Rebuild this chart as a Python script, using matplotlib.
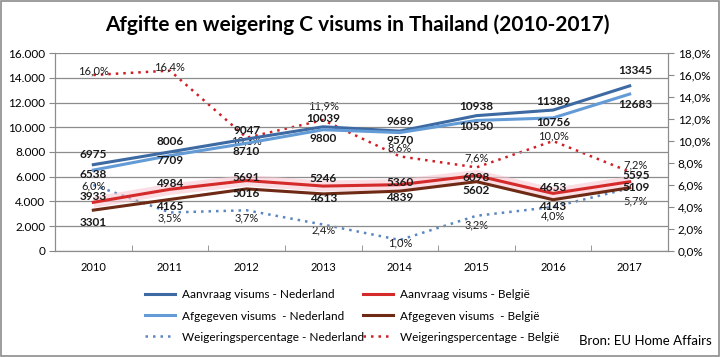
import matplotlib
matplotlib.use("Agg")
import matplotlib.pyplot as plt
from matplotlib.patches import Rectangle
from matplotlib.ticker import FuncFormatter

plt.rcParams['font.family'] = ['Lato', 'DejaVu Sans']

# data
years = ['2010', '2011', '2012', '2013', '2014', '2015', '2016', '2017']
aanvraag_nl = [6975, 8006, 9047, 10039, 9689, 10938, 11389, 13345]
afgegeven_nl = [6538, 7709, 8710, 9800, 9570, 10550, 10756, 12683]
aanvraag_be = [3933, 4984, 5691, 5246, 5360, 6098, 4653, 5595]
afgegeven_be = [3301, 4165, 5016, 4613, 4839, 5602, 4143, 5109]
weigering_nl = [6.0, 3.5, 3.7, 2.4, 1.0, 3.2, 4.0, 5.7]
weigering_be = [16.0, 16.4, 10.3, 11.9, 8.6, 7.6, 10.0, 7.2]

# label offsets in pixels (label placement only)
dy_aanv_nl = [10, 10, 9, 8, 10, 9, 9, 15]
dy_afg_nl = [-4, -5, -8, -9, -8, -6, -5, -10]
dy_aanv_be = [6, 6, 3, 8, 2, -2, 6, 6]
dy_afg_be = [-12, -7, -5, -5, -6, -9, -7, 0]
dy_weig_be = [4, 4, -3, 14, 8, 9, 5, 7]
dy_weig_nl = [-1, -5, -8, -5, -3, -9, -9, -13]
dx_label = [0, 0, 0, 0, 0, 0, 0, 6]

# colours
c_aanv_nl = '#3e6aa3'
c_afg_nl = '#639bd6'
c_aanv_be = '#d42a2a'
c_afg_be = '#6e2a14'
c_weig_nl = '#5b86c0'
c_weig_be = '#d01e26'

fig = plt.figure(figsize=(7.2, 3.57), dpi=100)
ax = fig.add_axes([0.0764, 0.297, 0.8514, 0.5545])
ax2 = ax.twinx()

x = list(range(len(years)))

# pink glow behind Belgian lines
ax.plot(x, aanvraag_be, color='#f7c8d2', lw=8, alpha=0.6, solid_capstyle='butt', zorder=1)

l1, = ax.plot(x, aanvraag_nl, color=c_aanv_nl, lw=2.2, zorder=3)
l2, = ax.plot(x, afgegeven_nl, color=c_afg_nl, lw=2.2, zorder=3)
l4, = ax.plot(x, aanvraag_be, color=c_aanv_be, lw=2.2, zorder=3)
l5, = ax.plot(x, afgegeven_be, color=c_afg_be, lw=2.2, zorder=3)
l3, = ax2.plot(x, weigering_nl, color=c_weig_nl, lw=1.8, ls=(0, (1, 2)), zorder=2)
l6, = ax2.plot(x, weigering_be, color=c_weig_be, lw=1.8, ls=(0, (1, 2)), zorder=2)

ax.set_xlim(-0.5, len(years) - 0.5)
ax.set_ylim(0, 16000)
ax.set_yticks(range(0, 16001, 2000))
ax.yaxis.set_major_formatter(FuncFormatter(lambda v, p: f"{int(v):,}".replace(',', '.')))
ax2.set_ylim(0, 18)
ax2.set_yticks(range(0, 19, 2))
ax2.yaxis.set_major_formatter(FuncFormatter(lambda v, p: f"{v:.1f}%".replace('.', ',')))

ax.set_xticks(x)
ax.set_xticklabels(years)
ax.set_xticks([i + 0.5 for i in range(-1, len(years))], minor=True)
ax.tick_params(axis='x', which='major', length=0, pad=8, labelsize=8)
ax.tick_params(axis='x', which='minor', length=4, color='#888888', direction='in')
ax.tick_params(axis='y', length=4, color='#888888', labelsize=8.5, pad=3)
ax2.tick_params(axis='y', length=4, color='#888888', labelsize=8.5, pad=3)

ax.grid(axis='y', color='#8c8c8c', lw=0.9)
ax.set_axisbelow(True)
for a in (ax, ax2):
    a.spines['top'].set_visible(False)
    for s in ('left', 'right', 'bottom'):
        a.spines[s].set_color('#8c8c8c')

ax.set_zorder(ax2.get_zorder() + 1)
ax.patch.set_visible(False)


# data labels
def labels(axis, vals, dys, fmt, bold):
    for i, v in enumerate(vals):
        axis.annotate(fmt(v), (i, v), xytext=(dx_label[i], dys[i]), textcoords='offset pixels',
                      ha='center', va='center', fontsize=8.5 if bold else 8,
                      fontweight='bold' if bold else 'normal', color='#1a1a1a', zorder=6)


num = lambda v: str(v)
pct = lambda v: f"{v:.1f}%".replace('.', ',')
labels(ax, aanvraag_nl, dy_aanv_nl, num, True)
labels(ax, afgegeven_nl, dy_afg_nl, num, True)
labels(ax, aanvraag_be, dy_aanv_be, num, True)
labels(ax, afgegeven_be, dy_afg_be, num, True)
labels(ax2, weigering_be, dy_weig_be, pct, False)
labels(ax2, weigering_nl, dy_weig_nl, pct, False)

fig.text(0.497, 0.93, 'Afgifte en weigering C visums in Thailand (2010-2017)',
         ha='center', va='center', fontsize=15, fontweight='bold')

# legend, two columns placed separately
leg_kw = dict(loc='center left', frameon=False, fontsize=8.5, handlelength=2.55,
              handletextpad=0.6, labelspacing=0.85, borderaxespad=0, borderpad=0)
fig.legend([l1, l2, l3], ['Aanvraag visums - Nederland', 'Afgegeven visums  - Nederland',
                          'Weigeringspercentage - Nederland'],
           bbox_to_anchor=(145 / 720, 0.1148), **leg_kw)
fig.legend([l4, l5, l6], ['Aanvraag visums - België', 'Afgegeven visums  - België',
                          'Weigeringspercentage - België'],
           bbox_to_anchor=(363 / 720, 0.1148), **leg_kw)

fig.text(0.989, 0.045, 'Bron: EU Home Affairs', ha='right', va='center', fontsize=9.5)

fig.patches.append(Rectangle((0.001, 0.002), 0.997, 0.995, transform=fig.transFigure,
                             fill=False, edgecolor='#8c8c8c', lw=1.2))

fig.savefig('out.png', dpi=100)
